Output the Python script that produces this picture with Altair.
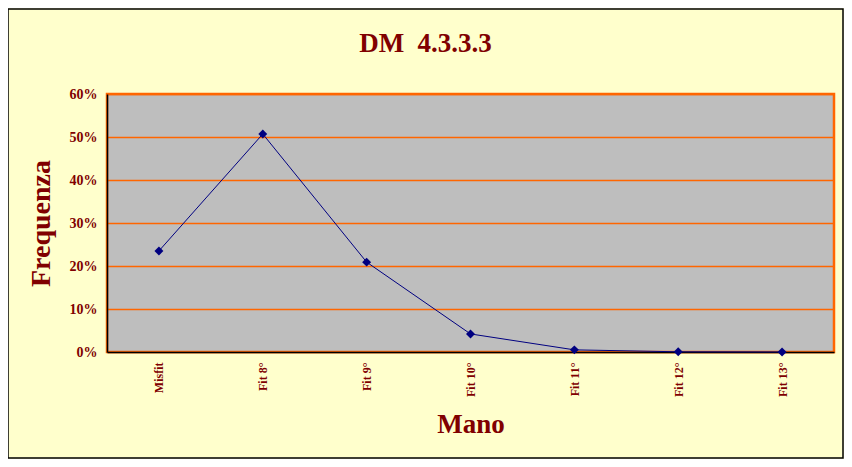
import altair as alt
import pandas as pd

categories = ["Misfit", "Fit 8°", "Fit 9°", "Fit 10°", "Fit 11°", "Fit 12°", "Fit 13°"]
frequenza = [0.235, 0.507, 0.209, 0.042, 0.005, 0.0005, 0.0001]
y_ticks = [0, 0.1, 0.2, 0.3, 0.4, 0.5, 0.6]

df = pd.DataFrame({"Mano": categories, "Frequenza": frequenza})

DARK_RED = "#800000"
NAVY = "#000080"
ORANGE = "#FF6600"
FONT = "Liberation Serif"

x_enc = alt.X(
    "Mano:N",
    sort=categories,
    title="Mano",
    axis=alt.Axis(
        labelAngle=270,
        labelFontSize=12,
        labelFontWeight="bold",
        labelColor=DARK_RED,
        labelFont=FONT,
        labelPadding=10,
        ticks=False,
        domainColor="black",
        domainWidth=1.5,
        titleFontSize=27,
        titleFontWeight="bold",
        titleColor=DARK_RED,
        titleFont=FONT,
        titlePadding=15,
        grid=False,
    ),
)
y_enc = alt.Y(
    "Frequenza:Q",
    title="Frequenza",
    scale=alt.Scale(domain=[0, 0.6], nice=False),
    axis=alt.Axis(
        values=y_ticks,
        format=".0%",
        labelFontSize=14,
        labelFontWeight="bold",
        labelColor=DARK_RED,
        labelFont=FONT,
        labelPadding=10,
        ticks=False,
        domainColor="black",
        domainWidth=1.5,
        grid=True,
        gridColor=ORANGE,
        gridWidth=1.3,
        gridOpacity=1,
        titleFontSize=28,
        titleFontWeight="bold",
        titleColor=DARK_RED,
        titleFont=FONT,
        titlePadding=14,
    ),
)

line = alt.Chart(df).mark_line(color=NAVY, strokeWidth=1).encode(x=x_enc, y=y_enc)
points = alt.Chart(df).mark_point(
    shape="diamond", filled=True, color=NAVY, size=80, opacity=1
).encode(x=x_enc, y=y_enc)

border = alt.Chart(pd.DataFrame({"a": [0]})).mark_rect(
    fillOpacity=0, stroke="black", strokeWidth=1.5
).encode(
    x=alt.value(-99), x2=alt.value(736), y=alt.value(-85), y2=alt.value(364)
)

chart = (
    alt.layer(line, points, border)
    .properties(
        width=727,
        height=258,
        autosize=alt.AutoSizeParams(type="none"),
        padding={"left": 99, "top": 86, "right": 10, "bottom": 107},
        background="#FFFFCC",
        title=alt.TitleParams(
            "DM\u00a0 4.3.3.3",
            anchor="middle",
            frame="group",
            dx=-45,
            offset=-71,
            baseline="alphabetic",
            fontSize=27,
            fontWeight="bold",
            color=DARK_RED,
            font=FONT,
        ),
    )
    .configure_view(fill="#BEBEBE", stroke=ORANGE, strokeWidth=2.5)
)

chart.save("out.html", embed_options={"renderer": "svg", "actions": False})
